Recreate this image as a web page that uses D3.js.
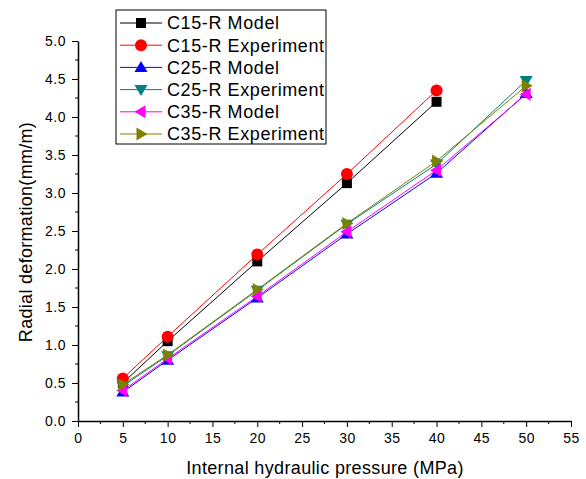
<!DOCTYPE html>
<html><head><meta charset="utf-8">
<script src="https://cdn.jsdelivr.net/npm/d3@7"></script>
<style>body{margin:0;background:#fff}svg{display:block}text{font-family:"Liberation Sans",Arial,sans-serif}</style>
</head><body>
<svg id="c" width="586" height="479"></svg>
<script>
const pressure = [5, 10, 20, 30, 40, 50];
const c15Model = [0.50, 1.05, 2.10, 3.13, 4.20];
const c15Exp   = [0.56, 1.11, 2.19, 3.25, 4.35];
const c25Model = [0.38, 0.80, 1.62, 2.46, 3.26, 4.31];
const c25Exp   = [0.46, 0.86, 1.72, 2.59, 3.38, 4.48];
const c35Model = [0.40, 0.82, 1.64, 2.49, 3.30, 4.30];
const c35Exp   = [0.48, 0.87, 1.73, 2.60, 3.42, 4.41];
const seriesNames = ["C15-R Model","C15-R Experiment","C25-R Model","C25-R Experiment","C35-R Model","C35-R Experiment"];
const colors = ["#000000","#ff0000","#0000ff","#008080","#ff00ff","#808000"];
const shapes = ["square","circle","up","down","left","right"];
const xTicks = d3.range(0, 56, 5);
const yTicks = d3.range(0, 5.01, 0.5);

const allValues = [c15Model, c15Exp, c25Model, c25Exp, c35Model, c35Exp];
const svg = d3.select("#c");
const x = d3.scaleLinear().domain([0, 55]).range([78, 571]);
const y = d3.scaleLinear().domain([0, 5]).range([421, 41]);

// axes
const xAxis = d3.axisBottom(x).tickValues(xTicks).tickFormat(d3.format("d")).tickSize(6).tickSizeOuter(0);
const gx = svg.append("g").attr("transform","translate(0,421)").call(xAxis);
gx.selectAll(".tick text").attr("font-size",14).attr("y",22).attr("dy",null).attr("letter-spacing","0.5px");
gx.selectAll("line.minor").data(d3.range(2.5, 55, 5)).enter().append("line").attr("class","minor")
  .attr("x1",d=>x(d)).attr("x2",d=>x(d)).attr("y1",0).attr("y2",3).attr("stroke","#000");
const yAxis = d3.axisLeft(y).tickValues(yTicks).tickFormat(d3.format(".1f")).tickSize(6).tickSizeOuter(0);
const gy = svg.append("g").attr("transform","translate(78,0)").call(yAxis);
gy.selectAll(".tick text").attr("font-size",14).attr("x",-12).attr("letter-spacing","0.5px");
gy.selectAll("line.minor").data(d3.range(0.25, 5, 0.5)).enter().append("line").attr("class","minor")
  .attr("y1",d=>y(d)).attr("y2",d=>y(d)).attr("x1",0).attr("x2",-3).attr("stroke","#000");
svg.selectAll(".domain").attr("stroke","#000").attr("stroke-width",1.5);

svg.append("text").attr("x",325).attr("y",474).attr("text-anchor","middle").attr("font-size",18).attr("letter-spacing","0.35px").text("Internal hydraulic pressure (MPa)");
svg.append("text").attr("transform","translate(32,232) rotate(-90)").attr("text-anchor","middle").attr("font-size",18).attr("letter-spacing","0.3px").text("Radial deformation(mm/m)");

function marker(g, shape, color, cx, cy) {
  const s = 5.5;
  if (shape === "square") g.append("rect").attr("x",cx-5).attr("y",cy-5).attr("width",10).attr("height",10).attr("fill",color);
  else if (shape === "circle") g.append("circle").attr("cx",cx).attr("cy",cy).attr("r",6).attr("fill",color);
  else {
    let pts;
    if (shape === "up") pts = [[cx,cy-s-1],[cx+s+1,cy+s-1],[cx-s-1,cy+s-1]];
    if (shape === "down") pts = [[cx,cy+s+1],[cx+s+1,cy-s+1],[cx-s-1,cy-s+1]];
    if (shape === "left") pts = [[cx-s-1,cy],[cx+s-1,cy-s-1],[cx+s-1,cy+s+1]];
    if (shape === "right") pts = [[cx+s+1,cy],[cx-s+1,cy-s-1],[cx-s+1,cy+s+1]];
    g.append("polygon").attr("points",pts.map(p=>p.join(",")).join(" ")).attr("fill",color);
  }
}

const line = d3.line().x(d=>x(d[0])).y(d=>y(d[1]));
allValues.forEach((vals, i) => {
  const pts = vals.map((v, j) => [pressure[j], v]);
  const g = svg.append("g");
  g.append("path").attr("d", line(pts)).attr("fill","none").attr("stroke",colors[i]).attr("stroke-width",1);
  pts.forEach(p => marker(g, shapes[i], colors[i], x(p[0]), y(p[1])));
});

// legend
const lg = svg.append("g");
lg.append("rect").attr("x",116).attr("y",10).attr("width",210).attr("height",134).attr("fill","#fff").attr("stroke","#000").attr("stroke-width",1);
seriesNames.forEach((n, i) => {
  const yy = 23 + i * 22.2;
  lg.append("line").attr("x1",120).attr("x2",162).attr("y1",yy).attr("y2",yy).attr("stroke",colors[i]);
  marker(lg, shapes[i], colors[i], 141, yy);
  lg.append("text").attr("x",167).attr("y",yy).attr("dy","0.36em").attr("font-size",18).attr("letter-spacing","0.6px").text(n);
});
</script>
</body></html>
